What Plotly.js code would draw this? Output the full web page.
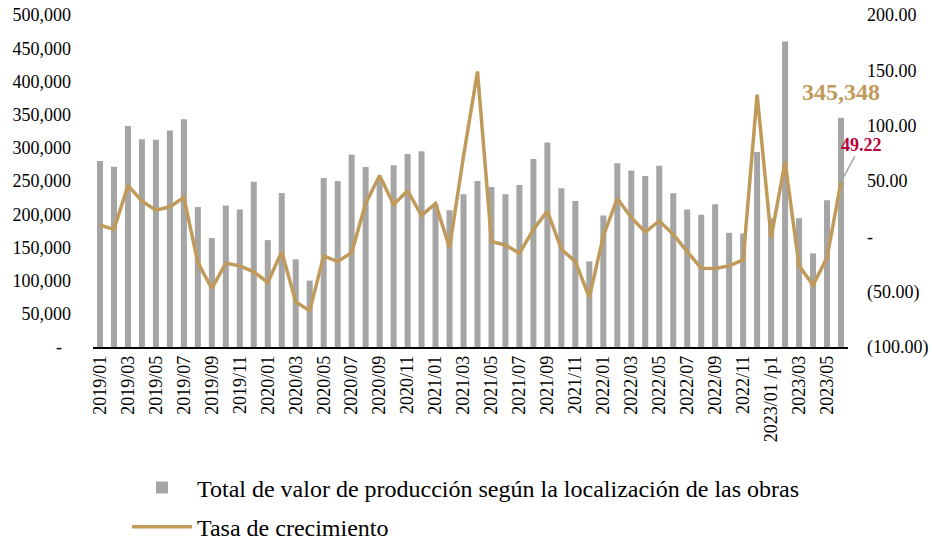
<!DOCTYPE html>
<html>
<head>
<meta charset="utf-8">
<script src="https://cdn.plot.ly/plotly-3.0.1.min.js"></script>
<style>html,body{margin:0;padding:0;background:#fff;}#chart{width:932px;height:540px;}</style>
</head>
<body>
<div id="chart"></div>
<script>
const categories = [
  "2019/01","2019/02","2019/03","2019/04","2019/05","2019/06","2019/07","2019/08","2019/09","2019/10","2019/11","2019/12",
  "2020/01","2020/02","2020/03","2020/04","2020/05","2020/06","2020/07","2020/08","2020/09","2020/10","2020/11","2020/12",
  "2021/01","2021/02","2021/03","2021/04","2021/05","2021/06","2021/07","2021/08","2021/09","2021/10","2021/11","2021/12",
  "2022/01","2022/02","2022/03","2022/04","2022/05","2022/06","2022/07","2022/08","2022/09","2022/10","2022/11","2022/12",
  "2023/01 /p1","2023/02","2023/03","2023/04","2023/05","2023/06"
];
const productionValue = [
  280000,271500,333000,313000,312000,326000,343000,211000,164000,213000,207000,249000,
  161000,232000,132000,100000,254500,250000,290000,271000,252000,273600,290700,294700,
  215000,206000,230000,250000,241000,230000,244000,283000,308000,239000,220000,129000,
  198000,276600,266000,257500,273000,231500,207000,199000,215000,172000,171000,293700,
  194000,460000,194000,141000,221000,345348
];
const growthRate = [
  10.2,6.3,46.0,31.8,23.7,26.7,35.1,-23.7,-47.1,-24.3,-26.7,-32.1,
  -41.7,-13.8,-59.2,-67.3,-17.7,-22.8,-14.7,29.7,55.0,28.8,41.2,18.9,
  29.7,-10.2,72.3,149.0,-4.8,-7.8,-15.3,6.3,22.8,-11.7,-22.8,-55.2,
  0.3,34.2,16.8,3.9,13.8,1.8,-13.8,-28.8,-29.1,-26.7,-21.3,128.0,
  -1.2,67.3,-26.7,-44.1,-19.2,49.22
];
const xTickLabels = categories.filter((c, i) => i % 2 === 0);
const leftTickVals = [0,50000,100000,150000,200000,250000,300000,350000,400000,450000,500000];
const leftTickText = ["-\u00a0\u00a0","50,000","100,000","150,000","200,000","250,000","300,000","350,000","400,000","450,000","500,000"];
const rightTickVals = [-100,-50,0,50,100,150,200];
const rightTickText = ["(100.00)","(50.00)","-","50.00","100.00","150.00","200.00"];
const barName = "Total de valor de producción según la localización de las obras";
const lineName = "Tasa de crecimiento";

const FONT = "Liberation Serif";
const GOLD = "#C09A5B";
const GREY = "#A5A5A5";
const last = categories.length - 1;

const traces = [
  {type:"bar", x:categories, y:productionValue, name:barName, marker:{color:GREY},
   yaxis:"y", legendgroup:"a"},
  {type:"scatter", mode:"lines", x:categories, y:growthRate, name:lineName,
   line:{color:GOLD, width:3.5}, yaxis:"y2", legendgroup:"b"}
];

const layout = {
  width:932, height:540,
  margin:{l:93, r:84, t:15, b:193, autoexpand:false},
  paper_bgcolor:"#fff", plot_bgcolor:"#fff",
  font:{family:FONT, size:18, color:"#000"},
  bargap:0.57,
  showlegend:true,
  legend:{orientation:"v", x:0.045, xanchor:"left", y:-0.357, yanchor:"top",
          font:{family:FONT, size:24, color:"#000"}, traceorder:"grouped",
          tracegroupgap:5, itemwidth:60, bgcolor:"rgba(0,0,0,0)"},
  xaxis:{type:"category", range:[-0.5, categories.length-0.5], tickvals:xTickLabels, ticktext:xTickLabels,
         tickangle:-90, showline:true, linecolor:"#000", linewidth:1.5, ticks:"", showgrid:false,
         zeroline:false, automargin:false, tickfont:{family:FONT, size:18, color:"#000"}},
  yaxis:{range:[0,500000], tickvals:leftTickVals, ticktext:leftTickText, showgrid:false,
         zeroline:false, showline:false, ticks:"", ticklabelstandoff:21, automargin:false,
         tickfont:{family:FONT, size:18, color:"#000"}},
  yaxis2:{range:[-100,200], overlaying:"y", side:"right", tickvals:rightTickVals, ticktext:rightTickText,
          showgrid:false, zeroline:false, showline:false, ticks:"", ticklabelstandoff:18, automargin:false,
          tickfont:{family:FONT, size:18, color:"#000"}},
  annotations:[
    {x:categories[last], y:productionValue[last], xref:"x", yref:"y",
     text:"<b>" + productionValue[last].toLocaleString("en-US") + "</b>",
     showarrow:false, xanchor:"center", yanchor:"bottom", yshift:11,
     font:{family:FONT, size:24, color:GOLD}},
    {x:categories[last], y:growthRate[last], xref:"x", yref:"y2",
     text:"<b>" + growthRate[last].toFixed(2) + "</b>",
     showarrow:true, arrowhead:0, arrowwidth:1.5, arrowcolor:GREY, ax:20, ay:-37,
     font:{family:FONT, size:18, color:"#B8003A"}}
  ]
};

Plotly.newPlot("chart", traces, layout, {displayModeBar:false, staticPlot:true});
</script>
</body>
</html>
